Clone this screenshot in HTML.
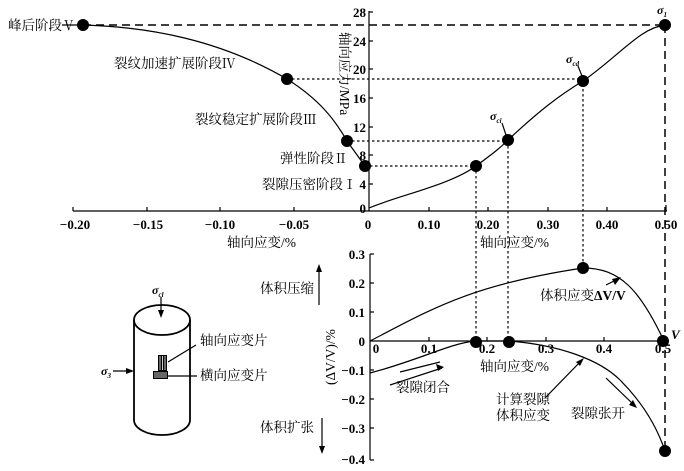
<!DOCTYPE html>
<html><head><meta charset="utf-8"><style>
html,body{margin:0;padding:0;background:#fff;}
svg{display:block;font-family:"Liberation Serif","Noto Serif CJK SC","Noto Sans CJK SC",serif;}
.c{font-family:"Liberation Serif","Noto Serif CJK SC",serif;font-size:13.5px;}
.n{font-family:"Liberation Serif",serif;font-size:13px;font-weight:bold;}
</style></head><body>
<svg width="684" height="471" viewBox="0 0 684 471" xmlns="http://www.w3.org/2000/svg">
<rect width="684" height="471" fill="#fff"/>
<g stroke="#000" fill="none" stroke-width="1.2">
<line x1="73" y1="211" x2="667" y2="211"/>
<line x1="369" y1="211" x2="369" y2="11"/>
<g>
<line x1="73" y1="211" x2="73" y2="207"/><line x1="147" y1="211" x2="147" y2="207"/><line x1="220" y1="211" x2="220" y2="207"/><line x1="294" y1="211" x2="294" y2="207"/>
<line x1="429" y1="211" x2="429" y2="207"/><line x1="488" y1="211" x2="488" y2="207"/><line x1="548" y1="211" x2="548" y2="207"/><line x1="607" y1="211" x2="607" y2="207"/><line x1="666" y1="211" x2="666" y2="205"/>
<line x1="369" y1="12" x2="373" y2="12"/><line x1="369" y1="41" x2="373" y2="41"/><line x1="369" y1="69" x2="373" y2="69"/><line x1="369" y1="98" x2="373" y2="98"/><line x1="369" y1="127" x2="373" y2="127"/><line x1="369" y1="155" x2="373" y2="155"/><line x1="369" y1="184" x2="373" y2="184"/>
</g>
<line x1="370" y1="254" x2="370" y2="460"/>
<line x1="370" y1="341" x2="666" y2="341"/>
<line x1="370" y1="254" x2="374" y2="254"/><line x1="370" y1="283" x2="374" y2="283"/><line x1="370" y1="312" x2="374" y2="312"/><line x1="370" y1="370" x2="374" y2="370"/><line x1="370" y1="399" x2="374" y2="399"/><line x1="370" y1="428" x2="374" y2="428"/><line x1="370" y1="460" x2="374" y2="460"/>
<line x1="429" y1="341" x2="429" y2="337"/><line x1="487" y1="341" x2="487" y2="337"/><line x1="546" y1="341" x2="546" y2="337"/><line x1="604" y1="341" x2="604" y2="337"/>
<path d="M83,25 C150,27 220,40 287,79 C320,100 335,120 347,141 L365,166"/>
<path d="M369,208 C400,195 450,185 476,166 C495,152 500,148 508,140 C540,110 560,95 583,81 C620,55 640,28 665,25"/>
<path d="M370,341 C430,310 470,285 583,268 C620,268 640,290 664,341"/>
<path d="M370,373 C420,360 450,343 476,341 L509,341 C560,345 600,360 620,380 C645,405 658,430 665,451"/>
<line x1="83" y1="25" x2="665" y2="25" stroke-dasharray="8,5" stroke-width="1.5"/>
<line x1="665" y1="25" x2="665" y2="451" stroke-dasharray="8,5" stroke-width="1.5"/>
<g stroke-dasharray="2.5,2.5">
<line x1="287" y1="79" x2="583" y2="79"/><line x1="583" y1="79" x2="583" y2="268"/>
<line x1="347" y1="141" x2="508" y2="141"/><line x1="508" y1="141" x2="508" y2="341"/>
<line x1="365" y1="166" x2="476" y2="166"/><line x1="476" y1="166" x2="476" y2="341"/>
</g>
<line x1="62" y1="25" x2="80" y2="25"/>
<line x1="578" y1="66" x2="582" y2="76"/>
<line x1="502" y1="123" x2="506" y2="135"/>
<line x1="400" y1="372" x2="440" y2="362"/>
<line x1="390" y1="385" x2="442" y2="368"/>
<line x1="545" y1="398" x2="582" y2="360"/>
<line x1="606" y1="378" x2="634" y2="405"/>
<line x1="606" y1="285" x2="618" y2="279"/>
<line x1="319" y1="268" x2="319" y2="305"/>
<line x1="322" y1="418" x2="322" y2="450"/>
<ellipse cx="162" cy="320" rx="28" ry="15" stroke-width="1.8"/>
<line x1="134" y1="320" x2="134" y2="420" stroke-width="1.8"/>
<line x1="190" y1="320" x2="190" y2="420" stroke-width="1.8"/>
<path d="M134,420 A28,15 0 0 0 190,420" stroke-width="1.8"/>
<line x1="161" y1="297" x2="161" y2="312"/>
<line x1="113" y1="371" x2="130" y2="371"/>
<line x1="168" y1="362" x2="196" y2="345"/>
<line x1="168" y1="376" x2="197" y2="376"/>
</g>
<g fill="#000">
<polygon points="161,318 158,310 164,310"/>
<polygon points="134,371 126,368 126,374"/>
<polygon points="319,264 316,272 322,272"/>
<polygon points="322,454 319,446 325,446"/>
<polygon points="444,367 436,364 438,371"/>
<polygon points="584,358 576,362 580,366"/>
<polygon points="637,408 629,405 633,400"/>
<polygon points="621,277 612,279 615,285"/>
<rect x="158" y="355" width="9" height="16"/>
<rect x="153" y="371" width="15" height="8"/>
<circle cx="83" cy="25" r="6"/><circle cx="287" cy="79" r="6"/><circle cx="347" cy="141" r="6"/><circle cx="365" cy="166" r="6"/>
<circle cx="476" cy="166" r="6"/><circle cx="508" cy="140" r="6"/><circle cx="583" cy="81" r="6"/><circle cx="665" cy="25" r="6"/>
<circle cx="583" cy="268" r="6"/><circle cx="476" cy="342" r="6"/><circle cx="509" cy="342" r="6"/><circle cx="663" cy="341" r="6"/><circle cx="665" cy="451" r="6"/>
</g>
<g stroke="#fff" stroke-width="0.8">
<line x1="160" y1="356" x2="160" y2="370"/><line x1="162.5" y1="356" x2="162.5" y2="370"/><line x1="165" y1="356" x2="165" y2="370"/>
<line x1="154" y1="373" x2="167" y2="373"/><line x1="154" y1="375" x2="167" y2="375"/><line x1="154" y1="377" x2="167" y2="377"/>
</g>
<g class="n" text-anchor="middle">
<text x="75" y="229">−0.20</text><text x="148" y="229">−0.15</text><text x="220" y="229">−0.10</text><text x="294" y="229">−0.05</text><text x="368" y="229">0</text>
<text x="429" y="229">0.10</text><text x="488" y="229">0.20</text><text x="548" y="229">0.30</text><text x="607" y="229">0.40</text><text x="666" y="229">0.50</text>
</g>
<g class="n" text-anchor="end">
<text x="366" y="17">28</text><text x="366" y="46">24</text><text x="366" y="74">20</text><text x="366" y="103">16</text><text x="366" y="132">12</text><text x="366" y="160">8</text><text x="366" y="189">4</text><text x="366" y="213">0</text>
<text x="365" y="259">0.3</text><text x="365" y="288">0.2</text><text x="365" y="317">0.1</text><text x="365" y="346">0</text><text x="365" y="375">−0.1</text><text x="365" y="404">−0.2</text><text x="365" y="433">−0.3</text><text x="365" y="464">−0.4</text>
</g>
<g class="n" text-anchor="middle">
<text x="376" y="353">0</text><text x="429" y="353">0.1</text><text x="487" y="353">0.2</text><text x="546" y="353">0.3</text><text x="604" y="353">0.4</text><text x="663" y="353">0.5</text>
</g>
<text class="n" x="671" y="339" font-style="italic">V</text>
<g class="c">
<text x="8" y="30">峰后阶段Ⅴ</text>
<text x="114" y="68">裂纹加速扩展阶段Ⅳ</text>
<text x="195" y="124">裂纹稳定扩展阶段Ⅲ</text>
<text x="280" y="163">弹性阶段Ⅱ</text>
<text x="262" y="189">裂隙压密阶段Ⅰ</text>
<text x="227" y="247">轴向应变/%</text>
<text x="480" y="247">轴向应变/%</text>
<text x="480" y="371">轴向应变/%</text>
<text x="540" y="300">体积应变<tspan font-weight="bold" font-family="Liberation Serif">ΔV/V</tspan></text>
<text x="396" y="392">裂隙闭合</text>
<text x="496" y="404">计算裂隙</text>
<text x="496" y="420">体积应变</text>
<text x="571" y="418">裂隙张开</text>
<text x="260" y="293">体积压缩</text>
<text x="260" y="432">体积扩张</text>
<text x="200" y="345">轴向应变片</text>
<text x="200" y="380">横向应变片</text>
<text transform="translate(340,32) rotate(90)">轴向应力/MPa</text>
<text transform="translate(335,385) rotate(-90)">(ΔV/V)/%</text>
</g>
<g font-family="Liberation Serif" font-style="italic" font-weight="bold" font-size="12">
<text x="657" y="14">σ<tspan font-size="7" dy="3">1</tspan></text>
<text x="566" y="63">σ<tspan font-size="7" dy="3">cd</tspan></text>
<text x="490" y="120">σ<tspan font-size="7" dy="3">ci</tspan></text>
<text x="152" y="294">σ<tspan font-size="7" dy="3">cl</tspan></text>
<text x="101" y="375">σ<tspan font-size="7" dy="3">3</tspan></text>
</g>
</svg>
</body></html>
